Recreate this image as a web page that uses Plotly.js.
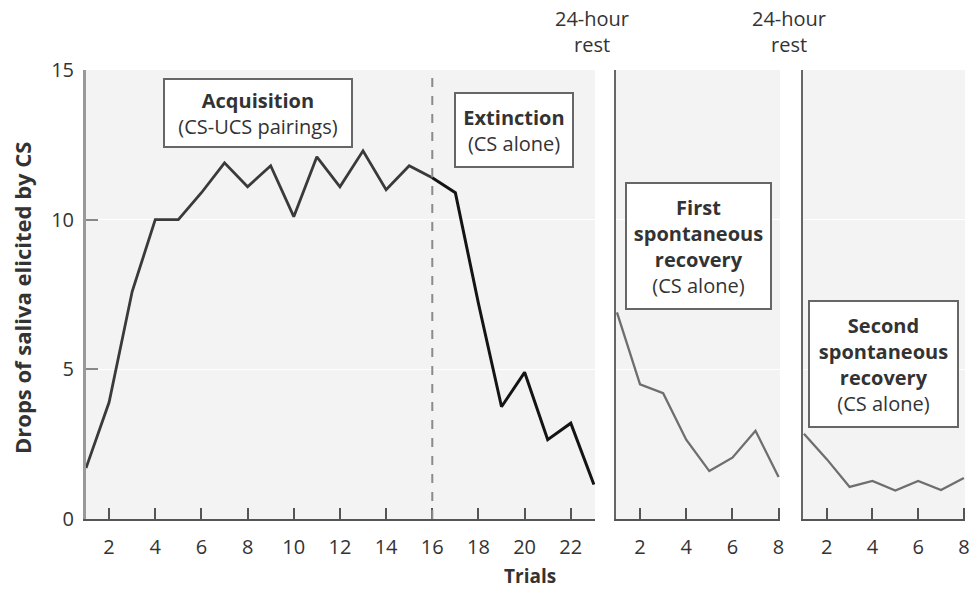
<!DOCTYPE html>
<html>
<head>
<meta charset="utf-8">
<script src="https://cdn.plot.ly/plotly-3.0.1.min.js"></script>
<style>html,body{margin:0;padding:0;background:#fff;}#chart{width:973px;height:592px;}</style>
</head>
<body>
<div id="chart"></div>
<script>
// Data
const acqTrials = [1,2,3,4,5,6,7,8,9,10,11,12,13,14,15,16];
const acqDrops  = [1.7,3.9,7.6,10,10,10.9,11.9,11.1,11.8,10.1,12.1,11.1,12.3,11.0,11.8,11.4];
const extTrials = [16,17,18,19,20,21,22,23];
const extDrops  = [11.4,10.9,7.2,3.75,4.9,2.65,3.2,1.15];
const rec1Trials = [1,2,3,4,5,6,7,8];
const rec1Drops  = [6.9,4.5,4.2,2.65,1.6,2.05,2.95,1.4];
const rec2Trials = [1,2,3,4,5,6,7,8];
const rec2Drops  = [2.85,2.0,1.07,1.27,0.95,1.27,0.97,1.37];
const xTicks1 = [2,4,6,8,10,12,14,16,18,20,22];
const xTicks23 = [2,4,6,8];
const yTicks = [0,5,10,15];

const FONT = '"Open Sans", "Noto Sans", sans-serif';
const txt = '#333333';

// plot-area pixel geometry helpers (for layout placement only)
const L = 86, T = 70, W = 879, H = 449;
const px = v => (v - L) / W;
const py = v => (T + H - v) / H;

const traces = [
  {x: acqTrials, y: acqDrops, xaxis: 'x', yaxis: 'y', mode: 'lines', line: {color: '#3a3a3a', width: 2.8}, hoverinfo: 'skip'},
  {x: extTrials, y: extDrops, xaxis: 'x', yaxis: 'y', mode: 'lines', line: {color: '#141414', width: 3}, hoverinfo: 'skip'},
  {x: rec1Trials, y: rec1Drops, xaxis: 'x2', yaxis: 'y2', mode: 'lines', line: {color: '#6e6e6e', width: 2.3}, hoverinfo: 'skip'},
  {x: rec2Trials, y: rec2Drops, xaxis: 'x3', yaxis: 'y3', mode: 'lines', line: {color: '#6e6e6e', width: 2.3}, hoverinfo: 'skip'}
];

const xCommon = {
  showgrid: false, zeroline: false, showline: true, linecolor: '#555', linewidth: 2,
  ticks: 'inside', ticklen: 11, tickwidth: 2, tickcolor: '#555',
  tickfont: {family: FONT, size: 20, color: txt}, ticklabelstandoff: 9
};
const yCommon = {
  range: [0, 15], showgrid: true, gridcolor: '#ffffff', gridwidth: 1, zeroline: false
};

const boxFont = {family: FONT, size: 20, color: txt};
function box(x, y, w, h, text) {
  return {xref: 'paper', yref: 'paper', x: x, y: y, xanchor: 'center', yanchor: 'middle', showarrow: false,
    text: text, align: 'center', bgcolor: '#ffffff', bordercolor: '#666', borderwidth: 2, borderpad: 0,
    width: w, height: h, font: boxFont};
}

const layout = {
  width: 973, height: 592,
  margin: {l: L, r: 973 - L - W, t: T, b: 592 - T - H},
  paper_bgcolor: '#ffffff', plot_bgcolor: '#f3f3f3',
  showlegend: false,
  font: {family: FONT, size: 20, color: txt},
  xaxis: Object.assign({}, xCommon, {domain: [0, 0.5791], range: [1, 23.05], tickvals: xTicks1, anchor: 'y'}),
  xaxis2: Object.assign({}, xCommon, {domain: [0.6030, 0.7895], range: [0.96, 8.06], tickvals: xTicks23, anchor: 'y2'}),
  xaxis3: Object.assign({}, xCommon, {domain: [0.8157, 1.0], range: [0.96, 8.05], tickvals: xTicks23, anchor: 'y3'}),
  yaxis: Object.assign({}, yCommon, {anchor: 'x', tickvals: yTicks, showline: true, linecolor: '#999', linewidth: 3,
    ticks: 'inside', ticklen: 12, tickwidth: 2, tickcolor: '#888', ticklabelstandoff: 5,
    tickfont: {family: FONT, size: 20, color: txt}}),
  yaxis2: Object.assign({}, yCommon, {anchor: 'x2', matches: 'y', tickvals: yTicks, showticklabels: false, ticks: '',
    showline: true, linecolor: '#666', linewidth: 2}),
  yaxis3: Object.assign({}, yCommon, {anchor: 'x3', matches: 'y', tickvals: yTicks, showticklabels: false, ticks: '',
    showline: true, linecolor: '#666', linewidth: 2}),
  shapes: [
    {type: 'line', xref: 'x', yref: 'y domain', x0: 16, x1: 16, y0: 0, y1: 1,
     line: {color: '#8a8a8a', width: 2, dash: 'dash'}}
  ],
  annotations: [
    box(px(258), py(113), 186, 66, '<b>Acquisition</b><br>(CS-UCS pairings)'),
    box(px(514), py(130), 116, 72, '<b>Extinction</b><br>(CS alone)'),
    box(px(698.5), py(246), 143, 124, '<b>First<br>spontaneous<br>recovery</b><br>(CS alone)'),
    box(px(883.5), py(364), 147, 124, '<b>Second<br>spontaneous<br>recovery</b><br>(CS alone)'),
    {xref: 'paper', yref: 'paper', x: px(592), y: py(32), xanchor: 'center', yanchor: 'middle', showarrow: false,
     text: '24-hour<br>rest', align: 'center', font: {family: FONT, size: 20, color: txt}},
    {xref: 'paper', yref: 'paper', x: px(789), y: py(32), xanchor: 'center', yanchor: 'middle', showarrow: false,
     text: '24-hour<br>rest', align: 'center', font: {family: FONT, size: 20, color: txt}},
    {xref: 'paper', yref: 'paper', x: px(530), y: py(576), xanchor: 'center', yanchor: 'middle', showarrow: false,
     text: '<b>Trials</b>', font: {family: FONT, size: 19, color: txt}},
    {xref: 'paper', yref: 'paper', x: px(22), y: py(298), xanchor: 'center', yanchor: 'middle', showarrow: false,
     textangle: -90, text: '<b>Drops of saliva elicited by CS</b>', font: {family: FONT, size: 22, color: txt}}
  ]
};

Plotly.newPlot('chart', traces, layout, {displayModeBar: false, staticPlot: true});
</script>
</body>
</html>
